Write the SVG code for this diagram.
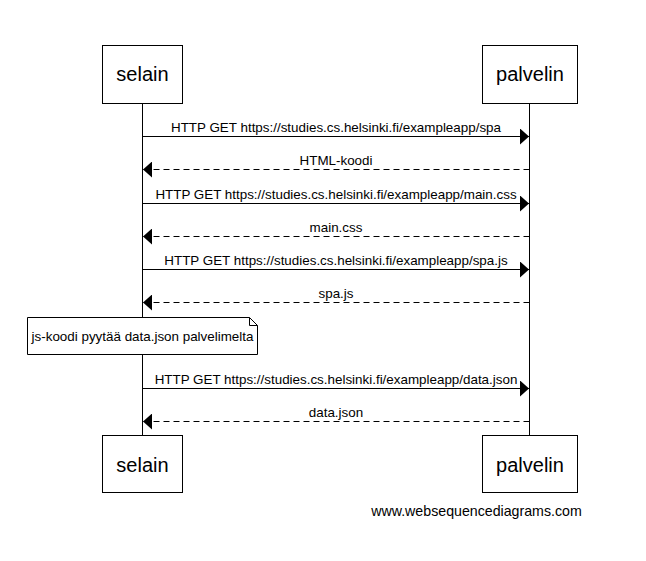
<svg xmlns="http://www.w3.org/2000/svg" width="646" height="561" viewBox="0 0 646 561">
<style>
.box{fill:#fff;stroke:#000;stroke-width:1}
.life{stroke:#000;stroke-width:1}
.actor{font-family:"Liberation Sans",Arial,sans-serif;font-size:20px;fill:#000;text-anchor:middle}
.lbl{font-family:"Liberation Sans",Arial,sans-serif;font-size:13.4px;fill:#000;text-anchor:middle}
.msg{stroke:#000;stroke-width:1;fill:none}
.dash{stroke-dasharray:6,4}
</style>
<defs>
<marker id="ah" markerWidth="10" markerHeight="16" refX="9" refY="8" orient="auto" markerUnits="userSpaceOnUse">
<path d="M0,0 L9,8 L0,16 Z" fill="#000"/>
</marker>
</defs>
<rect width="646" height="561" fill="#fff"/>
<g id="lifelines">
<line class="life" x1="142.5" y1="103" x2="142.5" y2="436"/>
<line class="life" x1="529.5" y1="103" x2="529.5" y2="436"/>
</g>
<g id="selain-top"><rect class="box" x="102.5" y="45.5" width="80" height="58"/><text class="actor" x="142.5" y="81">selain</text></g>
<g id="palvelin-top"><rect class="box" x="482.5" y="45.5" width="95" height="58"/><text class="actor" x="530" y="81">palvelin</text></g>
<g id="selain-bottom"><rect class="box" x="102.5" y="435.5" width="80" height="57"/><text class="actor" x="142.5" y="472">selain</text></g>
<g id="palvelin-bottom"><rect class="box" x="482.5" y="435.5" width="95" height="57"/><text class="actor" x="530" y="472">palvelin</text></g>
<g id="note">
<path class="box" d="M27.5,317.5 H249.5 L257.5,325.5 V354.5 H27.5 Z"/>
<path class="msg" d="M249.5,317.5 V325.5 H257.5"/>
<text class="lbl" x="142.5" y="341">js-koodi pyytää data.json palvelimelta</text>
</g>
<g id="connectors">
<line class="msg" x1="142.5" y1="136.5" x2="529" y2="136.5" marker-end="url(#ah)"/>
<line class="msg dash" x1="529.5" y1="169.5" x2="143" y2="169.5" marker-end="url(#ah)"/>
<line class="msg" x1="142.5" y1="203.5" x2="529" y2="203.5" marker-end="url(#ah)"/>
<line class="msg dash" x1="529.5" y1="236.5" x2="143" y2="236.5" marker-end="url(#ah)"/>
<line class="msg" x1="142.5" y1="269.5" x2="529" y2="269.5" marker-end="url(#ah)"/>
<line class="msg dash" x1="529.5" y1="302.5" x2="143" y2="302.5" marker-end="url(#ah)"/>
<line class="msg" x1="142.5" y1="388.5" x2="529" y2="388.5" marker-end="url(#ah)"/>
<line class="msg dash" x1="529.5" y1="421.5" x2="143" y2="421.5" marker-end="url(#ah)"/>
</g>
<g id="labels">
<text class="lbl" x="336" y="132">HTTP GET https://studies.cs.helsinki.fi/exampleapp/spa</text>
<text class="lbl" x="336" y="165">HTML-koodi</text>
<text class="lbl" x="336" y="199">HTTP GET https://studies.cs.helsinki.fi/exampleapp/main.css</text>
<text class="lbl" x="336" y="232">main.css</text>
<text class="lbl" x="336" y="265">HTTP GET https://studies.cs.helsinki.fi/exampleapp/spa.js</text>
<text class="lbl" x="336" y="298">spa.js</text>
<text class="lbl" x="336" y="384">HTTP GET https://studies.cs.helsinki.fi/exampleapp/data.json</text>
<text class="lbl" x="336" y="417">data.json</text>
</g>
<text x="476.5" y="516" style="font-family:'Liberation Sans',Arial,sans-serif;font-size:14.2px;fill:#000;text-anchor:middle">www.websequencediagrams.com</text>
</svg>
